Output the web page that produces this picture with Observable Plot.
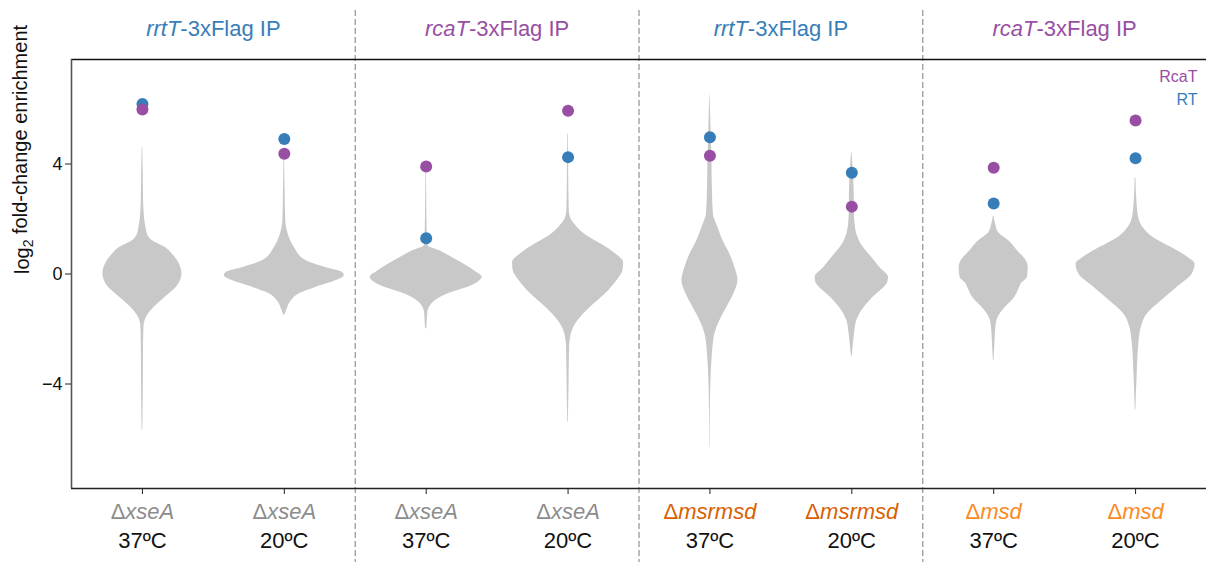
<!DOCTYPE html>
<html>
<head>
<meta charset="utf-8">
<script src="https://cdn.jsdelivr.net/npm/d3@7"></script>
<script src="https://cdn.jsdelivr.net/npm/@observablehq/plot@0.6"></script>
<style>
  html, body { margin: 0; padding: 0; background: #fff; }
  body { font-family: "Liberation Sans", Arial, sans-serif; }
</style>
</head>
<body>
<div id="chart"></div>
<script>
// ---------- data ----------
const genes = ["xseA", "xseA", "xseA", "xseA", "msrmsd", "msrmsd", "msd", "msd"];
const temps = ["37ºC", "20ºC", "37ºC", "20ºC", "37ºC", "20ºC", "37ºC", "20ºC"];
const geneColors = {xseA: "#8c8c8c", msrmsd: "#d95f02", msd: "#f98b1f"};

const panelGenes = ["rrtT", "rcaT", "rrtT", "rcaT"];
const panelColors = ["#377eb8", "#984ea3", "#377eb8", "#984ea3"];

const rtValues   = [6.18, 4.91, 1.30, 4.25, 4.97, 3.68, 2.56, 4.21];
const rcatValues = [5.98, 4.37, 3.91, 5.94, 4.30, 2.45, 3.86, 5.58];

const legendLabels = ["RcaT", "RT"];
const legendColors = ["#984ea3", "#377eb8"];

const yTicks = [-4, 0, 4];
const yDomain = [-7.8, 7.8];
const yLabel = "log2 fold-change enrichment";

// violin profiles: [log2 fold-change, density]
const violin1 = [[4.6,0.3],[3.6,0.8],[2.6,1.2],[2.0,2.2],[1.7,3.5],[1.45,5],[1.21,10],[0.96,23],[0.72,30],[0.36,37],[0,39.5],[-0.48,34],[-0.85,22.5],[-1.21,11.7],[-1.57,4],[-1.93,1.5],[-3,1],[-4.5,0.8],[-5.7,0.3]];
const violin2 = [[4.2,0.3],[3.0,0.8],[1.9,1.5],[1.5,3.5],[1.2,6.5],[0.96,10],[0.48,22],[0.24,41],[0.06,58],[-0.06,60],[-0.24,52],[-0.48,32],[-0.72,15],[-0.97,7],[-1.33,2.3],[-1.51,0.3]];
const violin3 = [[3.75,0.3],[2.5,0.6],[1.5,1],[1.03,2],[0.84,14],[0.6,26],[0.36,37.5],[0.12,48],[-0.12,56],[-0.36,49],[-0.54,37],[-0.72,22],[-0.97,9],[-1.21,3.3],[-1.45,1.5],[-1.93,0.8],[-2.0,0.3]];
const violin4 = [[5.1,0.3],[3.5,0.7],[2.3,1.2],[2.05,2.5],[1.81,6.7],[1.45,16.7],[1.09,33],[0.72,48],[0.42,55.5],[0.15,55],[-0.24,49],[-0.72,37.5],[-1.21,22.5],[-1.69,10],[-2.17,3.3],[-2.7,1.5],[-4,1],[-5.4,0.3]];
const violin5 = [[6.5,0.2],[5.8,0.7],[4.0,2],[3.0,2.5],[2.17,3.5],[1.69,8],[1.21,13],[0.72,20],[0.24,25],[-0.24,28],[-0.72,24],[-1.21,17],[-1.69,10],[-2.17,5],[-2.66,3],[-3.26,1.8],[-3.87,1],[-5.06,0.4],[-6.28,0.2]];
const violin6 = [[4.4,0.3],[3.9,1.2],[3.1,2.3],[2.2,2.6],[1.6,4],[1.25,7],[0.96,11.7],[0.6,20],[0.24,28],[-0.12,36.7],[-0.3,36],[-0.48,32.5],[-0.85,21],[-1.21,12.5],[-1.69,5],[-2.17,2.7],[-2.7,1.2],[-3.0,0.3]];
const violin7 = [[2.1,0.3],[1.8,2],[1.5,5],[1.21,15],[0.84,24],[0.48,32.5],[0.24,34.5],[-0.12,33.7],[-0.36,27.5],[-0.48,26],[-0.85,21],[-1.21,11.7],[-1.57,4.5],[-1.93,2.2],[-2.5,1.3],[-3.15,0.3]];
const violin8 = [[3.5,0.4],[2.55,1.5],[2.0,3.5],[1.69,7.5],[1.33,17.5],[0.96,36],[0.6,52.5],[0.36,59.5],[0,56.7],[-0.48,41.7],[-0.97,26],[-1.45,11.7],[-1.93,5.8],[-2.54,3.3],[-3.75,1.5],[-4.95,0.3]];
const violins = [violin1, violin2, violin3, violin4, violin5, violin6, violin7, violin8];

// ---------- derived tables ----------
const widthPerDensity = 0.00705; // x units per density unit
const idx = genes.map((_, i) => i);
const violinRows = violins.flatMap((prof, i) =>
  prof.slice().sort((a, b) => a[0] - b[0]).map(([y, d]) => ({v: i, y, x1: i - d * widthPerDensity, x2: i + d * widthPerDensity}))
);
const rtPoints = rtValues.map((y, i) => ({x: i, y}));
const rcatPoints = rcatValues.map((y, i) => ({x: i, y}));
const panelRows = panelGenes.map((g, p) => ({x: p * 2 + 0.5, text: g + "-3xFlag IP", color: panelColors[p]}));
const geneRows = genes.map((g, i) => ({x: i, text: "Δ" + g, color: geneColors[g]}));
const tempRows = temps.map((t, i) => ({x: i, text: t}));
const dividers = [1.5, 3.5, 5.5];
const xDomain = [-0.5, genes.length - 0.5];

const svg = Plot.plot({
  width: 1206,
  height: 562,
  marginLeft: 71,
  marginRight: 0,
  marginTop: 59,
  marginBottom: 74,
  style: {fontFamily: '"Liberation Sans", Arial, sans-serif', fontSize: "18px", color: "#111", background: "#fff", overflow: "visible"},
  x: {domain: xDomain, axis: null},
  y: {domain: yDomain, axis: null},
  marks: [
    Plot.ruleX(dividers, {stroke: "#9a9a9a", strokeWidth: 1.3, strokeDasharray: "6,3", insetTop: -49, insetBottom: -74}),
    Plot.areaX(violinRows, {y: "y", x1: "x1", x2: "x2", z: "v", fill: "#c8c8c8", curve: "monotone-y"}),
    Plot.ruleY([yDomain[1]], {stroke: "#111", strokeWidth: 1.6}),
    Plot.ruleY([yDomain[0]], {stroke: "#222", strokeWidth: 1.6}),
    Plot.ruleX([xDomain[0]], {stroke: "#555", strokeWidth: 1.6}),
    Plot.axisY({ticks: yTicks, tickSize: 6, tickPadding: 3, fontSize: 18, label: null, stroke: "#222"}),
    Plot.axisX({ticks: idx, tickSize: 6, tickFormat: () => "", label: null, stroke: "#222"}),
    Plot.dot(rtPoints, {x: "x", y: "y", r: 6, fill: "#377eb8"}),
    Plot.dot(rcatPoints, {x: "x", y: "y", r: 6, fill: "#984ea3"}),
    Plot.text(panelRows, {x: "x", text: "text", fill: "color", frameAnchor: "top", lineAnchor: "bottom", dy: -24, fontSize: 22}),
    Plot.text(geneRows, {x: "x", text: "text", fill: "color", frameAnchor: "bottom", lineAnchor: "bottom", dy: 30, fontSize: 22}),
    Plot.text(tempRows, {x: "x", text: "text", fill: "#111", frameAnchor: "bottom", lineAnchor: "bottom", dy: 59, fontSize: 22}),
    Plot.text([legendLabels[0]], {text: d => d, fill: legendColors[0], frameAnchor: "top-right", textAnchor: "end", lineAnchor: "bottom", dx: -9, dy: 22, fontSize: 16}),
    Plot.text([legendLabels[1]], {text: d => d, fill: legendColors[1], frameAnchor: "top-right", textAnchor: "end", lineAnchor: "bottom", dx: -9, dy: 45, fontSize: 16}),
    Plot.text([yLabel], {text: d => d, frameAnchor: "left", rotate: -90, dx: -49, fontSize: 20, fill: "#111"})
  ]
});

// ---------- rich text (italics, subscript) ----------
const NS = "http://www.w3.org/2000/svg";
function setParts(t, parts) {
  t.textContent = "";
  for (const p of parts) {
    const ts = document.createElementNS(NS, "tspan");
    ts.textContent = p.text;
    if (p.italic) ts.setAttribute("font-style", "italic");
    if (p.size) ts.setAttribute("font-size", p.size);
    if (p.dy) ts.setAttribute("dy", p.dy);
    t.appendChild(ts);
  }
}
svg.querySelectorAll("text").forEach(t => {
  const s = t.textContent;
  if (s.startsWith("Δ") && genes.includes(s.slice(1))) {
    setParts(t, [{text: "Δ"}, {text: s.slice(1), italic: true}]);
  } else if (s.endsWith("-3xFlag IP")) {
    const g = s.slice(0, s.indexOf("-"));
    setParts(t, [{text: g, italic: true}, {text: s.slice(g.length)}]);
  } else if (s === yLabel) {
    setParts(t, [{text: "log"}, {text: "2", size: "14px", dy: "0.3em"}, {text: " fold-change enrichment", dy: "-0.3em"}]);
  }
});

document.getElementById("chart").appendChild(svg);
</script>
</body>
</html>
